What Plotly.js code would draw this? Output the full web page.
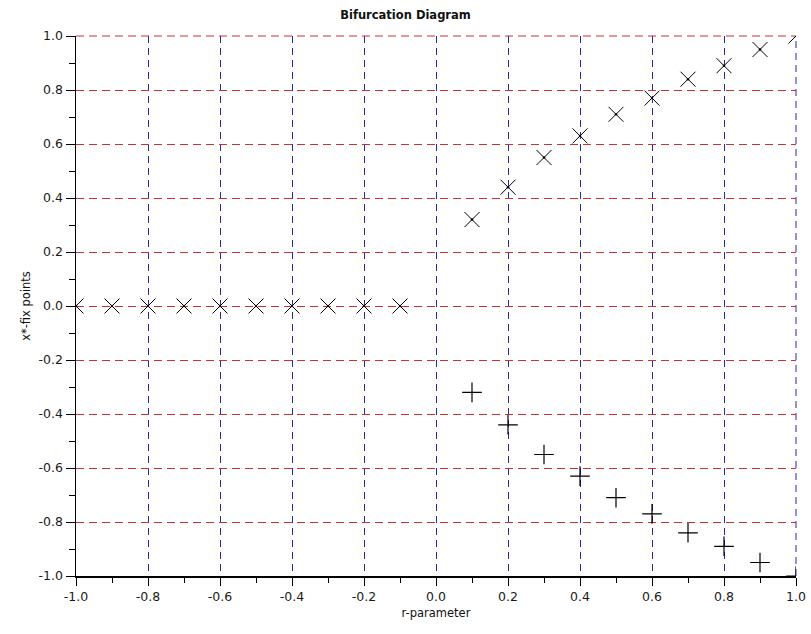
<!DOCTYPE html>
<html>
<head>
<meta charset="utf-8">
<script src="https://cdn.plot.ly/plotly-3.0.1.min.js"></script>
<style>html,body{margin:0;padding:0;background:#fff;}#chart{width:811px;height:634px;}</style>
</head>
<body>
<div id="chart"></div>
<script>
// r values where x* = 0
const rNeg = [-1.0, -0.9, -0.8, -0.7, -0.6, -0.5, -0.4, -0.3, -0.2, -0.1];
const xZero = [0, 0, 0, 0, 0, 0, 0, 0, 0, 0];
// r values for positive branches
const rPos = [0.1, 0.2, 0.3, 0.4, 0.5, 0.6, 0.7, 0.8, 0.9, 1.0];
const xUpper = [0.32, 0.44, 0.55, 0.63, 0.71, 0.77, 0.84, 0.89, 0.95, 1.0];
const xLower = [-0.32, -0.44, -0.55, -0.63, -0.71, -0.77, -0.84, -0.89, -0.95, -1.0];
const tickVals = [-1.0, -0.8, -0.6, -0.4, -0.2, 0.0, 0.2, 0.4, 0.6, 0.8, 1.0];
const tickText = ["-1.0", "-0.8", "-0.6", "-0.4", "-0.2", "0.0", "0.2", "0.4", "0.6", "0.8", "1.0"];

const xMarker = {symbol: 'x-thin-open', size: 15, color: 'black', line: {width: 1, color: 'black'}};
const pMarker = {symbol: 'cross-thin-open', size: 14, color: 'black', line: {width: 1.2, color: 'black'}};
const dotMarker = {symbol: 'circle', size: 2.5, color: 'black', line: {width: 0}};

const traces = [
  {x: rNeg.concat(rPos), y: xZero.concat(xUpper), mode: 'markers', type: 'scatter', marker: xMarker, hoverinfo: 'skip'},
  {x: rNeg.concat(rPos), y: xZero.concat(xUpper), mode: 'markers', type: 'scatter', marker: dotMarker, hoverinfo: 'skip'},
  {x: rPos, y: xLower, mode: 'markers', type: 'scatter', marker: pMarker, hoverinfo: 'skip'}
];

const fam = '"DejaVu Sans", "Liberation Sans", Arial, sans-serif';
const redGrid = '#c83232';
const blueGrid = '#2a2aa8';

const layout = {
  width: 811, height: 634,
  margin: {l: 76, r: 15, t: 36, b: 58},
  paper_bgcolor: 'white', plot_bgcolor: 'white',
  showlegend: false,
  font: {family: fam, size: 11, color: '#111'},
  title: {text: '<b>Bifurcation Diagram</b>', font: {family: fam, size: 11.5, color: '#111'}, x: 0.5, xanchor: 'center', y: 0.976, yanchor: 'middle'},
  xaxis: {
    range: [-1, 1], fixedrange: true,
    tickvals: tickVals, ticktext: tickText,
    ticks: 'outside', ticklen: 8, tickwidth: 1, tickcolor: 'black',
    showline: true, linecolor: 'black', linewidth: 1.5,
    showgrid: true, gridcolor: blueGrid, gridwidth: 1, griddash: '7px,5px',
    zeroline: false,
    minor: {dtick: 0.1, ticks: 'outside', ticklen: 5, tickcolor: 'black', showgrid: false},
    tickfont: {family: fam, size: 12.5, color: '#1a1a1a'},
    title: {text: 'r-parameter', font: {family: fam, size: 11.5, color: '#111'}, standoff: 6}
  },
  yaxis: {
    range: [-1, 1], fixedrange: true,
    tickvals: tickVals, ticktext: tickText,
    ticks: 'outside', ticklen: 9, tickwidth: 1, tickcolor: 'black',
    showline: true, linecolor: 'black', linewidth: 1.5,
    showgrid: true, gridcolor: redGrid, gridwidth: 1, griddash: '8px,5px',
    zeroline: false,
    minor: {dtick: 0.1, ticks: 'outside', ticklen: 6, tickcolor: 'black', showgrid: false},
    tickfont: {family: fam, size: 12.5, color: '#1a1a1a'},
    title: {text: 'x*-fix points', font: {family: fam, size: 11.5, color: '#111'}, standoff: 5}
  },
  shapes: [
    // grid lines at the upper and right edges of the plot area (frame-relative)
    {type: 'line', xref: 'paper', yref: 'paper', x0: 0, x1: 1, y0: 1, y1: 1, layer: 'below',
     line: {color: redGrid, width: 1, dash: '8px,5px'}},
    {type: 'line', xref: 'paper', yref: 'paper', x0: 1, x1: 1, y0: 0, y1: 1, layer: 'below',
     line: {color: blueGrid, width: 1, dash: '7px,5px'}}
  ]
};

Plotly.newPlot('chart', traces, layout, {staticPlot: true, displayModeBar: false});
</script>
</body>
</html>
